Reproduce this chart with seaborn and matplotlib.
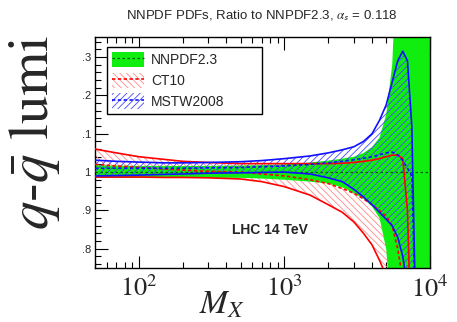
import numpy as np
import pandas as pd
import matplotlib
matplotlib.use("Agg")
import matplotlib.pyplot as plt
import seaborn as sns
from matplotlib.patches import Patch
from matplotlib.lines import Line2D
from matplotlib.ticker import FixedLocator, LogLocator, NullFormatter

# ---------------- data ----------------
mx = [50, 70, 100, 150, 200, 300, 500, 700, 1000, 1500, 2000, 2500, 3000,
      3500, 4000, 4500, 5000, 5500, 6000, 6500, 7000, 7500, 8000, 9000, 10000]

nnpdf_up = [1.018, 1.017, 1.016, 1.016, 1.016, 1.016, 1.017, 1.018, 1.020, 1.025,
            1.030, 1.035, 1.040, 1.050, 1.065, 1.090, 1.150, 1.280, 1.600, 1.600,
            1.600, 1.600, 1.600, 1.600, 1.600]
nnpdf_lo = [0.985, 0.985, 0.985, 0.985, 0.985, 0.985, 0.985, 0.983, 0.980, 0.975,
            0.970, 0.960, 0.945, 0.930, 0.910, 0.880, 0.800, 0.600, 0.400, 0.400,
            0.400, 0.400, 0.400, 0.400, 0.400]
nnpdf_c = [1.0] * len(mx)

ct10_up = [1.060, 1.050, 1.040, 1.033, 1.028, 1.025, 1.022, 1.022, 1.022, 1.022,
           1.022, 1.023, 1.025, 1.028, 1.031, 1.035, 1.040, 1.044, 1.044, 1.035,
           0.900, 0.500, 0.500, 0.500, 0.500]
ct10_lo = [0.987, 0.987, 0.987, 0.986, 0.986, 0.985, 0.982, 0.975, 0.962, 0.940,
           0.915, 0.895, 0.870, 0.840, 0.810, 0.770, 0.730, 0.600, 0.500, 0.500,
           0.500, 0.500, 0.500, 0.500, 0.500]
ct10_c = [1.020, 1.016, 1.012, 1.008, 1.005, 1.002, 1.000, 0.995, 0.990, 0.980,
          0.970, 0.957, 0.945, 0.930, 0.915, 0.900, 0.885, 0.860, 0.800, 0.720,
          0.500, 0.500, 0.500, 0.500, 0.500]

mstw_up = [1.031, 1.028, 1.026, 1.024, 1.024, 1.025, 1.027, 1.030, 1.035, 1.042,
           1.050, 1.058, 1.066, 1.080, 1.100, 1.135, 1.175, 1.235, 1.290, 1.315,
           1.290, 1.120, 0.600, 0.500, 0.500]
mstw_lo = [0.990, 0.991, 0.992, 0.994, 0.995, 0.997, 0.998, 0.999, 1.000, 0.995,
           0.985, 0.975, 0.955, 0.935, 0.915, 0.895, 0.877, 0.860, 0.830, 0.780,
           0.700, 0.500, 0.500, 0.500, 0.500]
mstw_c = [1.010, 1.010, 1.010, 1.010, 1.010, 1.011, 1.012, 1.014, 1.016, 1.020,
          1.024, 1.028, 1.032, 1.036, 1.040, 1.045, 1.050, 1.052, 1.045, 1.030,
          1.010, 0.990, 0.600, 0.500, 0.500]

labels = ["NNPDF2.3", "CT10", "MSTW2008"]
yticks = [0.8, 0.9, 1.0, 1.1, 1.2, 1.3]
yticklabels = [".8", ".9", "1", ".1", ".2", ".3"]
xticks = [100, 1000, 10000]
xticklabels = [r"$10^2$", r"$10^3$", r"$10^4$"]

# ---------------- style ----------------
sns.set_style("ticks")
plt.rcParams["font.family"] = ["Liberation Sans", "DejaVu Sans"]
plt.rcParams["mathtext.fontset"] = "stix"
plt.rcParams["hatch.linewidth"] = 0.6

GREEN = "#10ee10"
RED = "#ff0000"
BLUE = "#1010ff"

fig = plt.figure(figsize=(4.57, 3.22), dpi=100)
ax = fig.add_axes([95 / 457, 1 - 268 / 322, 335 / 457, 231 / 322])

M = np.array(mx)
# CT10 hatched band
ax.fill_between(M, ct10_lo, ct10_up, facecolor="none", edgecolor="#ff8a8a",
                hatch="\\\\\\\\\\", linewidth=0, zorder=1)
# NNPDF green band
ax.fill_between(M, nnpdf_lo, nnpdf_up, facecolor=GREEN, edgecolor="none",
                linewidth=0, zorder=2)
# MSTW hatched band
ax.fill_between(M, mstw_lo, mstw_up, facecolor="none", edgecolor="#4646ff",
                hatch="/////", linewidth=0, zorder=3)

# lines
sns.lineplot(x=M, y=nnpdf_c, ax=ax, color="#0a5a0a", linestyle=(0, (2, 2)),
             linewidth=0.9, zorder=5)
for lo, up, c, col in [(ct10_lo, ct10_up, ct10_c, RED), (mstw_lo, mstw_up, mstw_c, BLUE)]:
    sns.lineplot(x=M, y=up, ax=ax, color=col, linewidth=1.2, zorder=6)
    sns.lineplot(x=M, y=lo, ax=ax, color=col, linewidth=1.2, zorder=6)
    sns.lineplot(x=M, y=c, ax=ax, color=col, linewidth=1.2, linestyle=(0, (2, 1.5)), zorder=6)

ax.set_xscale("log")
ax.set_xlim(50, 10000)
ax.set_ylim(0.75, 1.352)

ax.yaxis.set_major_locator(FixedLocator(yticks))
ax.set_yticklabels(yticklabels)
ax.yaxis.set_minor_locator(FixedLocator(np.arange(0.76, 1.35, 0.02)))
ax.set_xticks(xticks)
ax.set_xticklabels(xticklabels)
ax.xaxis.set_minor_locator(LogLocator(base=10, subs=np.arange(2, 10)))
ax.xaxis.set_minor_formatter(NullFormatter())

ax.tick_params(axis="both", which="both", direction="in", top=True, right=True,
               color="black")
ax.tick_params(axis="both", which="major", length=9, width=0.8)
ax.tick_params(axis="both", which="minor", length=4.5, width=0.8)
ax.tick_params(axis="y", which="major", labelsize=8, pad=3)
ax.tick_params(axis="x", which="major", labelsize=19, pad=6)
for lab in ax.get_xticklabels():
    lab.set_fontfamily("STIXGeneral")
for sp in ax.spines.values():
    sp.set_linewidth(1.0)
    sp.set_color("black")
ax.set_xlabel("")
ax.set_ylabel("")

# legend
handles = [
    (Patch(facecolor=GREEN, edgecolor="none"),
     Line2D([], [], color="#0a5a0a", linestyle=(0, (2, 2)), linewidth=0.9)),
    (Patch(facecolor="none", edgecolor="#ff8a8a", hatch="\\\\\\\\\\", linewidth=0),
     Line2D([], [], color=RED, linestyle=(0, (2, 1.5)), linewidth=1.2)),
    (Patch(facecolor="none", edgecolor="#4646ff", hatch="/////", linewidth=0),
     Line2D([], [], color=BLUE, linestyle=(0, (2, 1.5)), linewidth=1.2)),
]
x0 = (107 - 95) / 335
w = (262 - 107) / 335
ytop = (268 - 47) / 231
h = (115 - 47) / 231
leg = ax.legend(handles, labels, loc="upper left",
                bbox_to_anchor=(x0, ytop - h, w, h), mode="expand",
                frameon=True, fancybox=False, fontsize=10,
                handlelength=2.3, handleheight=1.3, handletextpad=0.5,
                labelspacing=0.4, borderpad=0.35, borderaxespad=0.0)
leg.get_frame().set_edgecolor("black")
leg.get_frame().set_linewidth(1.0)
leg.get_frame().set_alpha(1)
leg.set_zorder(10)

ax.text(270 / 457, 1 - 230 / 322, "LHC 14 TeV", transform=fig.transFigure,
        ha="center", va="center", fontsize=10, fontweight="bold", zorder=10)

fig.text(262 / 457, 1 - 16 / 322,
         r"NNPDF PDFs, Ratio to NNPDF2.3, $\alpha_{\mathsf{s}}$ = 0.118",
         ha="center", va="center", fontsize=9.5)
fig.text(35 / 457, 1 - 132 / 322, r"$q$-$\bar{q}$ lumi", rotation=90,
         ha="center", va="center", fontsize=41, family="STIXGeneral")
fig.text(222 / 457, 1 / 322, r"$M_X$", ha="center", va="bottom",
         fontsize=24)

fig.savefig("out.png", dpi=100)
